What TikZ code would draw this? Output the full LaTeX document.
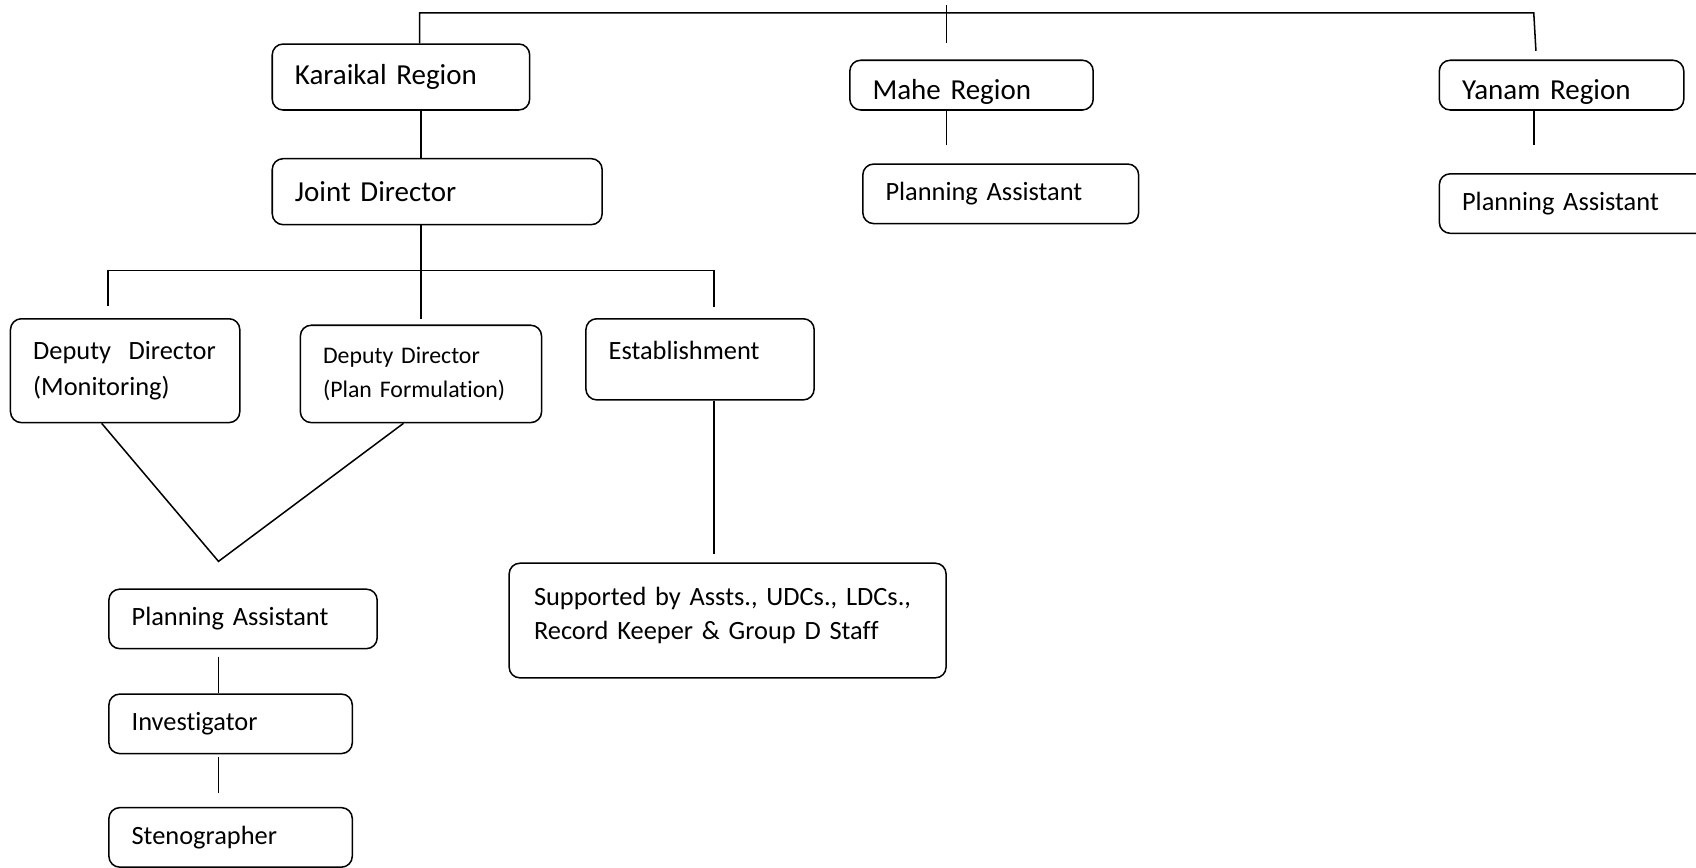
\documentclass[tikz,border=0pt]{standalone}
\usepackage{fontspec}
\setmainfont[Ligatures=NoCommon]{Carlito}

\begin{document}
\begin{tikzpicture}[x=0.5pt, y=-0.5pt, line width=0.7pt,
  box/.style={draw, rounded corners=5pt, anchor=north west, align=left, inner xsep=10.5pt, inner ysep=0pt},
  big/.style={font=\fontsize{13.4}{16}\selectfont},
  mid/.style={font=\fontsize{12.2}{17}\selectfont},
  small/.style={font=\fontsize{11}{16}\selectfont}]
\useasboundingbox (0,0) rectangle (1568,802);
\clip (0,0) rectangle (1568,802);

% regions
\node[box, big, text width=98pt, minimum height=30.5pt] (karaikal) at (251,40) {Karaikal Region};
\node[box, big, text width=131.5pt, minimum height=30.5pt] (joint) at (251,146) {Joint Director};
\node[box, big, text width=91.5pt, minimum height=23pt, text height=16pt, text depth=3pt] (mahe) at (785,55) {Mahe Region};
\node[box, big, text width=92pt, minimum height=23pt, text height=16pt, text depth=3pt] (yanam) at (1330,55) {Yanam Region};
\node[box, mid, text width=106.5pt, minimum height=27.5pt] (mahepa) at (797,151) {Planning Assistant};
\node[box, mid, text width=104pt, minimum height=27.5pt] (yanampa) at (1330,160) {Planning Assistant};

% Karaikal branches
\node[box, mid, text width=85pt, minimum height=48pt] (ddmon) at (9,294) {Deputy\ \ Director\\(Monitoring)};
\node[box, small, text width=90.5pt, minimum height=45pt] (ddplan) at (277,300) {Deputy Director\\(Plan Formulation)};
\node[box, mid, text width=84.5pt, minimum height=37.5pt, text depth=8pt] (estab) at (541,294) {Establishment};
\node[box, font=\fontsize{12.2}{16}\selectfont, inner xsep=11.5pt, text width=179pt, minimum height=53pt, text depth=22.5pt] (support) at (470,520) {Supported by Assts., UDCs., LDCs.,\\Record Keeper \& Group D Staff};
\node[box, mid, text width=103pt, minimum height=27.5pt] (plasst) at (100,544) {Planning Assistant};
\node[box, mid, text width=91.5pt, minimum height=27.5pt] (invest) at (100,641) {Investigator};
\node[box, mid, text width=91.5pt, minimum height=27.5pt] (steno) at (100,746) {Stenographer};

% free ends
\coordinate (spine) at (389,0);
\coordinate (topL) at (388,12);
\coordinate (topR) at (1418,12);
\coordinate (yanamin) at (1420,47);
\coordinate (mahetick) at (875,5);
\coordinate (mahein) at (875,40);
\coordinate (maheout) at (875,134);
\coordinate (yanamout) at (1418,134);
\coordinate (barL) at (100,250);
\coordinate (barR) at (660,250);
\coordinate (ddmonin) at (100,283);
\coordinate (estabin) at (660,284);
\coordinate (jdout) at (389,295);
\coordinate (vL) at (94,390);
\coordinate (apex) at (202,519);
\coordinate (vR) at (373,390);
\coordinate (estabout) at (660,512);
\coordinate (c1) at (202,607);
\coordinate (c2) at (202,700);
\coordinate (c3) at (202,733);

\draw (karaikal.north -| topL) -- (topL) -- (topR) -- (yanamin);
\draw (mahetick) -- (mahein);
\draw (karaikal.south -| spine) -- (joint.north -| spine);
\draw (joint.south -| spine) -- (jdout);
\draw (ddmonin) -- (barL) -- (barR) -- (estabin);
\draw (mahe.south -| mahetick) -- (maheout);
\draw (yanam.south -| yanamout) -- (yanamout);
\draw (ddmon.south -| vL) -- (apex) -- (ddplan.south -| vR);
\draw (estab.south -| estabout) -- (estabout);
\draw (c1) -- (invest.north -| c1);
\draw (c2) -- (c3);
\end{tikzpicture}
\end{document}
